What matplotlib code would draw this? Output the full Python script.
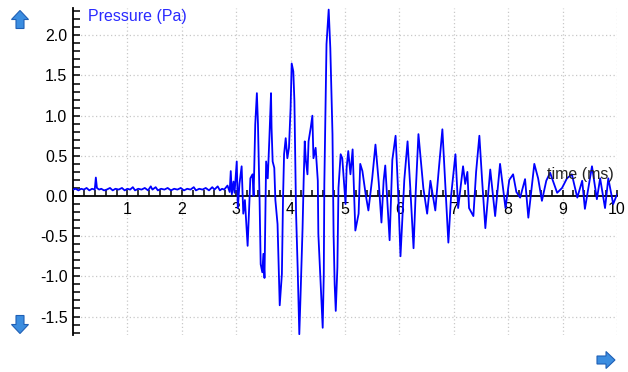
import matplotlib
matplotlib.use("Agg")
import matplotlib.pyplot as plt
from matplotlib.ticker import MultipleLocator
from matplotlib.patches import Polygon

plt.rcParams['font.family'] = ['Liberation Sans', 'DejaVu Sans']

# time (ms)
time_ms = [0.00, 0.05, 0.10, 0.15, 0.20, 0.25, 0.30, 0.35, 0.40, 0.42, 0.44, 0.48,
           0.52, 0.57, 0.62, 0.68, 0.73, 0.78, 0.84, 0.90, 0.95, 1.00, 1.05, 1.10,
           1.14, 1.20, 1.26, 1.32, 1.38, 1.43, 1.46, 1.52, 1.56, 1.62, 1.68, 1.74,
           1.80, 1.86, 1.92, 1.98, 2.04, 2.10, 2.16, 2.22, 2.26, 2.32, 2.38, 2.44,
           2.50, 2.56, 2.60, 2.66, 2.70, 2.74, 2.78,
           2.84, 2.88, 2.90, 2.92, 2.95, 2.97, 3.01, 3.03, 3.06, 3.10, 3.13, 3.16,
           3.21, 3.26, 3.30, 3.32, 3.35, 3.38, 3.40, 3.43, 3.45, 3.48, 3.50, 3.52,
           3.55, 3.58, 3.61, 3.64, 3.65, 3.67, 3.70, 3.72, 3.76, 3.80, 3.84, 3.86,
           3.88, 3.91, 3.94, 3.97, 4.00, 4.02, 4.05, 4.07, 4.10, 4.13, 4.16, 4.18,
           4.22, 4.24, 4.26, 4.28, 4.31, 4.33, 4.37, 4.40, 4.42, 4.46, 4.50, 4.51,
           4.55, 4.59, 4.61, 4.62, 4.66, 4.70, 4.73, 4.77, 4.79, 4.81, 4.83, 4.86,
           4.88, 4.92, 4.95, 4.99, 5.01, 5.03, 5.06, 5.10, 5.14, 5.19, 5.25, 5.28,
           5.32, 5.38, 5.43, 5.50, 5.56, 5.62, 5.67, 5.71, 5.74, 5.82, 5.87, 5.93,
           5.98, 6.02, 6.09, 6.15, 6.20, 6.26, 6.30, 6.35, 6.44, 6.51, 6.57, 6.66,
           6.72, 6.79, 6.84, 6.90, 6.95, 7.03, 7.08, 7.17, 7.21, 7.25, 7.28, 7.36,
           7.41, 7.47, 7.52, 7.58, 7.67, 7.76, 7.85, 7.95, 8.02, 8.09, 8.15, 8.22,
           8.31, 8.37, 8.48, 8.55, 8.62, 8.70, 8.77, 8.90, 8.99, 9.08, 9.17, 9.27,
           9.36, 9.41, 9.54, 9.63, 9.69, 9.78, 9.84, 9.93, 10.00]

# pressure (Pa)
pressure_pa = [0.08, 0.09, 0.07, 0.09, 0.08, 0.10, 0.07, 0.09, 0.08, 0.23, 0.10, 0.08,
               0.09, 0.07, 0.08, 0.10, 0.07, 0.09, 0.08, 0.10, 0.07, 0.09, 0.08, 0.11,
               0.07, 0.09, 0.08, 0.10, 0.07, 0.12, 0.08, 0.11, 0.07, 0.09, 0.08, 0.10,
               0.07, 0.09, 0.08, 0.10, 0.07, 0.09, 0.08, 0.11, 0.07, 0.09, 0.08, 0.10,
               0.07, 0.11, 0.08, 0.12, 0.07, 0.09, 0.08,
               0.13, 0.05, 0.31, 0.02, 0.18, 0.04, 0.43, -0.15, 0.15, 0.37, -0.22, -0.05,
               -0.62, 0.22, 0.27, 0.00, 0.89, 1.28, 0.90, -0.06, -0.85, -0.95, -0.72, -1.02,
               0.43, 0.22, 0.72, 1.28, 0.85, 0.43, 0.35, -0.05, -0.35, -1.36, -0.97, -0.06,
               0.52, 0.72, 0.47, 0.60, 1.10, 1.65, 1.55, 1.18, -0.20, -0.90, -1.72, -1.30,
               -0.40, 0.19, 0.68, 0.45, 0.27, 0.68, 0.85, 1.00, 0.47, 0.60, 0.19, -0.47,
               -1.06, -1.64, -0.97, 0.15, 1.89, 2.32, 1.84, 0.77, -0.47, -1.10, -1.43, -0.89,
               0.10, 0.52, 0.47, 0.10, -0.10, 0.35, 0.56, 0.27, 0.58, -0.43, -0.22, 0.40,
               0.31, 0.02, -0.18, 0.22, 0.64, 0.17, -0.33, 0.19, 0.38, -0.55, 0.45, 0.75,
               0.00, -0.75, 0.20, 0.68, 0.10, -0.65, 0.05, 0.77, 0.10, -0.22, 0.19, -0.18,
               0.30, 0.83, 0.20, -0.58, 0.00, 0.52, -0.15, 0.37, 0.15, 0.30, -0.15, -0.25,
               0.30, 0.75, 0.20, -0.40, 0.33, -0.25, 0.40, -0.15, 0.20, 0.27, 0.05, -0.02,
               0.21, -0.27, 0.40, 0.22, -0.06, 0.19, 0.29, 0.04, 0.10, 0.22, 0.27, -0.02,
               0.19, -0.16, 0.37, -0.04, 0.22, -0.15, 0.22, -0.10, 0.02]

x_ticks = [1, 2, 3, 4, 5, 6, 7, 8, 9, 10]
x_tick_labels = ['1', '2', '3', '4', '5', '6', '7', '8', '9', '10']
y_ticks = [-1.5, -1.0, -0.5, 0.0, 0.5, 1.0, 1.5, 2.0]
y_tick_labels = ['-1.5', '-1.0', '-0.5', '0.0', '0.5', '1.0', '1.5', '2.0']

W, H = 628, 372
fig = plt.figure(figsize=(W / 100, H / 100), dpi=100)
ax = fig.add_axes([73 / W, 1 - 335 / H, (617 - 73) / W, (335 - 8) / H])

ax.set_xlim(0, 10)
ax.set_ylim(-1.73, 2.34)

# grid
for xv in x_ticks:
    ax.axvline(xv, color='#c8c8c8', lw=0.9, ls=(0, (1, 2)), zorder=0)
for yv in y_ticks:
    if yv != 0.0:
        ax.axhline(yv, color='#c8c8c8', lw=0.9, ls=(0, (1, 2)), zorder=0)

ax.plot(time_ms, pressure_pa, color='#0000ff', lw=1.3, zorder=3)

for s in ['top', 'right']:
    ax.spines[s].set_visible(False)
ax.spines['left'].set_position(('data', 0))
ax.spines['bottom'].set_position(('data', 0))
ax.spines['left'].set_linewidth(1.3)
ax.spines['bottom'].set_linewidth(1.3)
ax.spines['bottom'].set_zorder(2)

ax.set_xticks(x_ticks)
ax.set_xticklabels(x_tick_labels)
ax.set_yticks(y_ticks)
ax.set_yticklabels(y_tick_labels)
ax.xaxis.set_minor_locator(MultipleLocator(0.2))
ax.yaxis.set_minor_locator(MultipleLocator(0.1))
ax.tick_params(axis='x', which='both', direction='in', length=4, width=1.1,
               labelsize=11.5, pad=4, colors='black')
ax.tick_params(axis='y', which='both', direction='in', length=5, width=1.1,
               labelsize=11.5, pad=4, colors='black')
ax.set_facecolor('white')

fig.text(88 / W, 1 - 17 / H, 'Pressure (Pa)', color='#2a2aff', fontsize=11.5,
         ha='left', va='center')
fig.text(614 / W, 1 - 175 / H, 'time (ms)', color='#222222', fontsize=11.5,
         ha='right', va='center')

# navigation arrows
def arrow(cx, cy, direction):
    hw, hh, sw, sl = 8.5, 9.0, 4.0, 9.0
    pts = [(0, -hh), (hw, 0), (sw, 0), (sw, sl), (-sw, sl), (-sw, 0), (-hw, 0)]
    out = []
    for dx, dy in pts:
        if direction == 'down':
            dx, dy = dx, -dy
        elif direction == 'right':
            dx, dy = -dy, dx
        out.append(((cx + dx) / W, 1 - (cy + dy) / H))
    fig.add_artist(Polygon(out, closed=True, transform=fig.transFigure,
                           facecolor='#3b8de0', edgecolor='#1f5fb5', lw=0.8))

arrow(20, 19.5, 'up')
arrow(20, 324.5, 'down')
arrow(606, 360, 'right')

fig.savefig('out.png', dpi=100, facecolor='white')
